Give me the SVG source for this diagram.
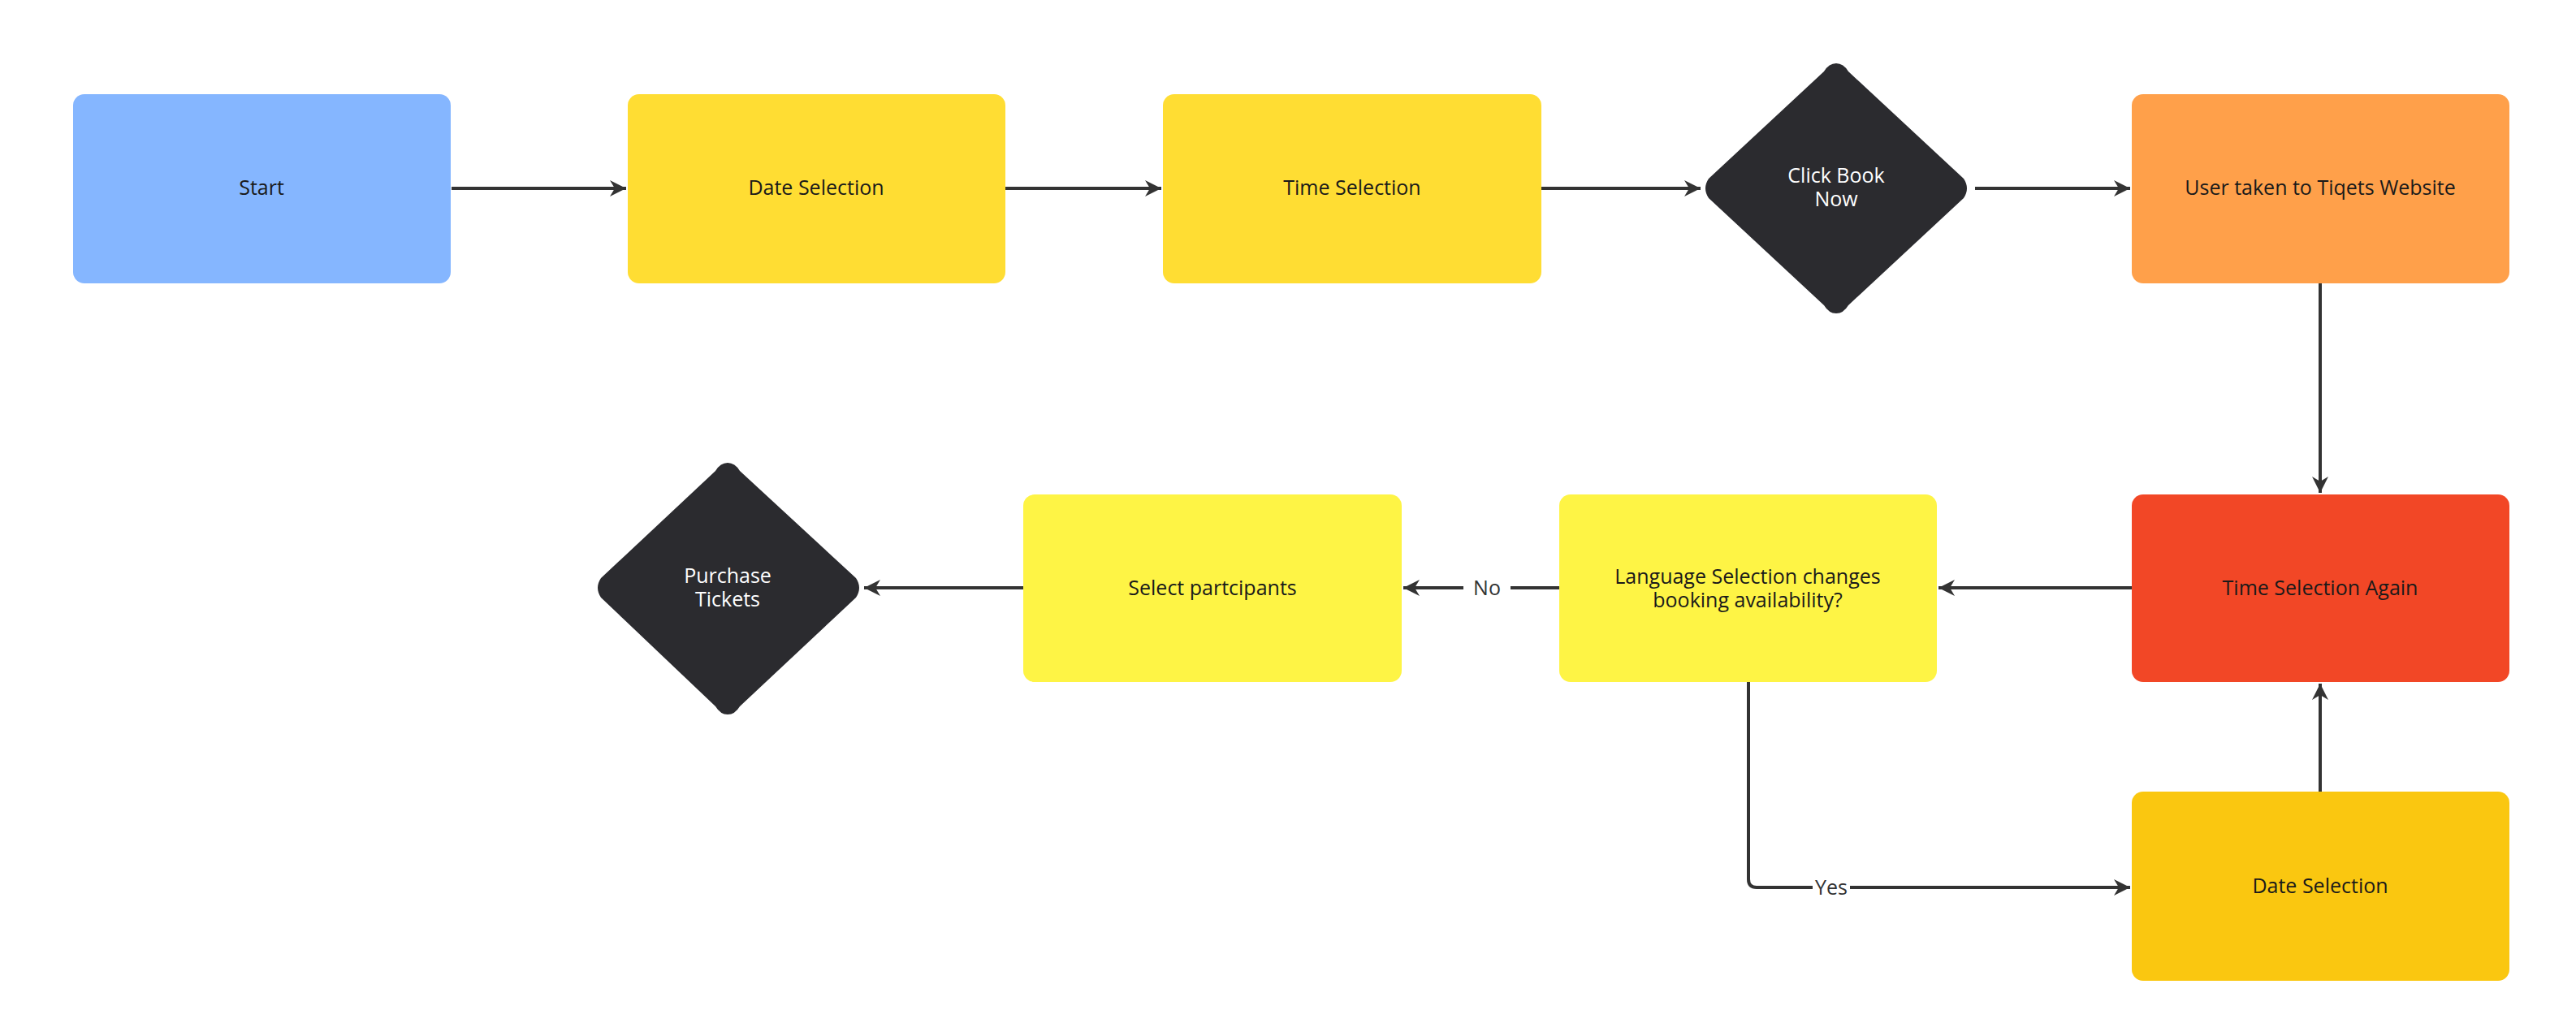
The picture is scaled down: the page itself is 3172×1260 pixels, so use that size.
<svg xmlns="http://www.w3.org/2000/svg" width="3172" height="1260" viewBox="0 0 3172 1260">
<style>
text{font-family:"Open Sans","Liberation Sans",sans-serif;font-size:25px;fill:#1a1a1a;text-anchor:middle;dominant-baseline:middle}
.w{fill:#ffffff}
.c{fill:none;stroke:#333333;stroke-width:4}
.lbl{fill:#333333}
</style>
<defs>
<marker id="a" viewBox="0 0 12 12" refX="11" refY="6" markerWidth="6" markerHeight="6" markerUnits="strokeWidth" orient="auto">
<path d="M1,1 L11,6 L1,11 L4,6 Z" fill="#333333"/>
</marker>
</defs>
<rect x="0" y="0" width="3172" height="1260" fill="#ffffff"/>
<g id="connectors">
<path class="c" d="M556,232 H771" marker-end="url(#a)"/>
<path class="c" d="M1238,232 H1430" marker-end="url(#a)"/>
<path class="c" d="M1898,232 H2094" marker-end="url(#a)"/>
<path class="c" d="M2432,232 H2623" marker-end="url(#a)"/>
<path class="c" d="M2857,349 V607" marker-end="url(#a)"/>
<path class="c" d="M2857,975 V842" marker-end="url(#a)"/>
<path class="c" d="M2625,724 H2387" marker-end="url(#a)"/>
<path class="c" d="M1920,724 H1860 M1802,724 H1728" marker-end="url(#a)"/>
<path class="c" d="M1260,724 H1064" marker-end="url(#a)"/>
<path class="c" d="M2153,840 V1083 Q2153,1093 2163,1093 H2232 M2278,1093 H2623" marker-end="url(#a)"/>
<text class="lbl" x="1831" y="726">No</text>
<text class="lbl" x="2255" y="1095">Yes</text>
</g>
<g id="start"><rect x="90" y="116" width="465" height="233" rx="14" fill="#85B6FF"/><text x="322" y="233">Start</text></g>
<g id="date1"><rect x="773" y="116" width="465" height="233" rx="14" fill="#FFDD33"/><text x="1005" y="233">Date Selection</text></g>
<g id="time1"><rect x="1432" y="116" width="466" height="233" rx="14" fill="#FFDD33"/><text x="1665" y="233">Time Selection</text></g>
<g id="book"><path d="M2261,78 Q2270,78 2276,88 L2418,220 Q2426,232 2418,244 L2276,376 Q2270,386 2261,386 Q2252,386 2246,376 L2104,244 Q2096,232 2104,220 L2246,88 Q2252,78 2261,78 Z" fill="#2B2B2F"/><text class="w" x="2261" y="218">Click Book</text><text class="w" x="2261" y="247">Now</text></g>
<g id="tiqets"><rect x="2625" y="116" width="465" height="233" rx="14" fill="#FFA04A"/><text x="2857" y="233">User taken to Tiqets Website</text></g>
<g id="timeagain"><rect x="2625" y="609" width="465" height="231" rx="14" fill="#F24726"/><text x="2857" y="726">Time Selection Again</text></g>
<g id="date2"><rect x="2625" y="975" width="465" height="233" rx="14" fill="#FAC710"/><text x="2857" y="1093">Date Selection</text></g>
<g id="language"><rect x="1920" y="609" width="465" height="231" rx="14" fill="#FEF445"/><text x="2152" y="712">Language Selection changes</text><text x="2152" y="741">booking availability?</text></g>
<g id="participants"><rect x="1260" y="609" width="466" height="231" rx="14" fill="#FEF445"/><text x="1493" y="726">Select partcipants</text></g>
<g id="purchase"><path d="M896,570 Q905,570 911,580 L1054,712 Q1062,724 1054,736 L911,870 Q905,880 896,880 Q887,880 881,870 L740,736 Q732,724 740,712 L881,580 Q887,570 896,570 Z" fill="#2B2B2F"/><text class="w" x="896" y="711">Purchase</text><text class="w" x="896" y="740">Tickets</text></g>
</svg>
